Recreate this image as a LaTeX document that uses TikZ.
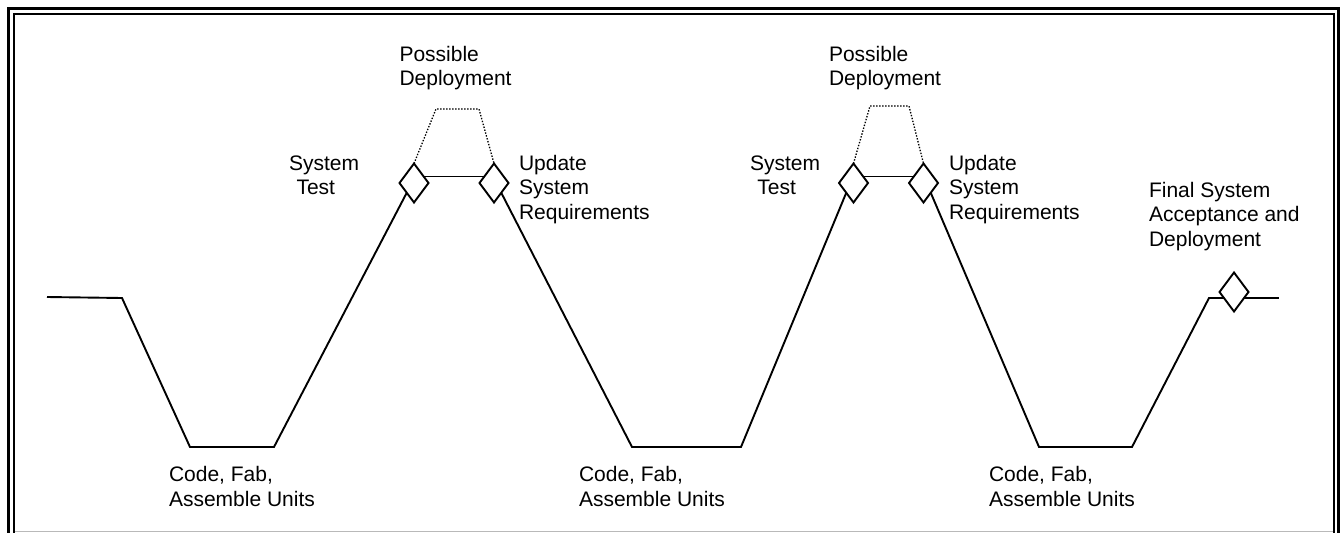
\documentclass[tikz,border=0pt]{standalone}
\usepackage{fontspec}
\setmainfont{Liberation Sans}
\usetikzlibrary{shapes.geometric,calc}
\tikzset{
  mainline/.style={line width=1.9pt, line join=miter},
  dotline/.style={line width=1.3pt, dash pattern=on 1.4pt off 1.6pt},
  gate/.style={diamond, draw, line width=1.9pt, fill=white, minimum width=29pt, minimum height=39pt, inner sep=0pt, outer sep=0pt},
  lbl/.style={anchor=north west, inner sep=0pt, outer sep=0pt, align=left, font=\fontsize{21}{24.5}\selectfont},
  frameout/.style={line width=3pt},
  framein/.style={line width=2pt},
}
\begin{document}
\begin{tikzpicture}[x=1pt,y=-1pt]
\useasboundingbox (0,0) rectangle (1342,533);
% frame
\draw[frameout] (8.5,534) -- (8.5,8.5) -- (1338,8.5) -- (1338,534);
\draw[framein] (14,534) -- (14,14) -- (1333.5,14) -- (1333.5,534);
\draw[gray!55, line width=1pt] (15,531.5) -- (1332.5,531.5);

% corner coordinates
\coordinate (s0) at (47,297);
\coordinate (s1) at (122,298);
\coordinate (b1l) at (190,447);
\coordinate (b1r) at (274,447);
\coordinate (b2l) at (632,447);
\coordinate (b2r) at (741,447);
\coordinate (b3l) at (1039,447);
\coordinate (b3r) at (1132,447);
\coordinate (e1) at (1209,298);
\coordinate (e2) at (1279,298);
\coordinate (p1a) at (436,109);
\coordinate (p1b) at (479,109);
\coordinate (p2a) at (870,106);
\coordinate (p2b) at (909,106);

% diamonds
\node[gate] (d1) at (414,183) {};
\node[gate] (d2) at (494,183) {};
\node[gate] (d3) at (853.5,183) {};
\node[gate] (d4) at (923.5,183) {};
\node[gate] (d5) at (1234,292) {};

% main path
\draw[mainline] (s0) -- (s1) -- (b1l) -- (b1r) -- (d1.south west);
\draw[mainline] ($(d1)+(10,-6.5)$) -- ($(d2)+(-10,-6.5)$);
\draw[mainline] (d2.south east) -- (b2l) -- (b2r) -- (d3.south west);
\draw[mainline] ($(d3)+(10,-6.5)$) -- ($(d4)+(-10,-6.5)$);
\draw[mainline] (d4.south east) -- (b3l) -- (b3r) -- (e1) -- ($(d5)+(-10,6)$);
\draw[mainline] ($(d5)+(10,6)$) -- (e2);

% dotted deployment paths
\draw[dotline] (d1.north) -- (p1a) -- (p1b) -- (d2.north);
\draw[dotline] (d3.north) -- (p2a) -- (p2b) -- (d4.north);

% labels
\node[lbl] (pd1) at (399.5,46) {Possible\\Deployment};
\node[lbl] (st1) at (289,155.5) {System\\\hspace*{7.5pt}Test};
\node[lbl] (us1) at (519,155) {Update\\System\\Requirements};
\node[lbl] (pd2) at (829,46) {Possible\\Deployment};
\node[lbl] (st2) at (750,155.5) {System\\\hspace*{7.3pt}Test};
\node[lbl] (us2) at (949,155) {Update\\System\\Requirements};
\node[lbl] (fin) at (1149,182) {Final System\\Acceptance and\\Deployment};
\node[lbl] (c1) at (169,466.5) {Code, Fab,\\Assemble Units};
\node[lbl] (c2) at (579,466.5) {Code, Fab,\\Assemble Units};
\node[lbl] (c3) at (989,466.5) {Code, Fab,\\Assemble Units};
\end{tikzpicture}
\end{document}
